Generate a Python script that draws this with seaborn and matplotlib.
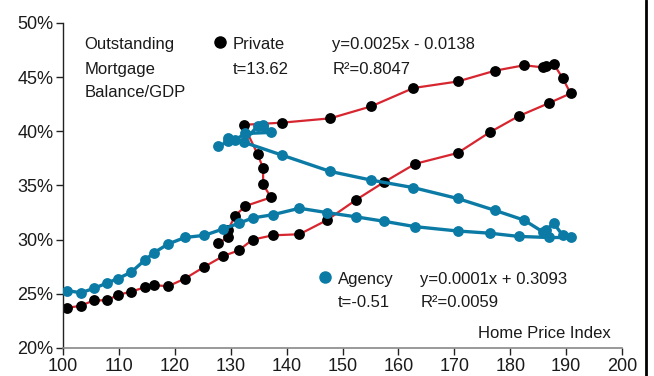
import matplotlib
matplotlib.use("Agg")
import matplotlib.pyplot as plt
from matplotlib.lines import Line2D
import seaborn as sns
import pandas as pd

# Home price index (shared by both series, quarterly, chronological)
hpi = [100.7, 103.2, 105.5, 107.9, 109.8, 112.2, 114.6, 116.3, 118.8, 121.8,
       125.3, 128.7, 131.4, 133.9, 137.5, 142.3, 147.2, 152.5, 157.4, 163.0,
       170.6, 176.3, 181.5, 186.9, 190.8, 189.4, 187.8, 186.4, 185.9, 182.5,
       177.3, 170.6, 162.7, 155.1, 147.8, 139.2, 132.3, 134.8, 135.8, 135.8,
       137.2, 132.6, 130.8, 129.5, 129.6, 127.8]

# Outstanding mortgage balance / GDP, in percent
private = [23.7, 23.9, 24.4, 24.4, 24.9, 25.2, 25.6, 25.8, 25.7, 26.4,
           27.5, 28.5, 29.0, 30.0, 30.4, 30.5, 31.8, 33.7, 35.3, 37.0,
           38.0, 39.9, 41.4, 42.6, 43.5, 44.9, 46.2, 46.0, 45.9, 46.1,
           45.6, 44.6, 44.0, 42.3, 41.2, 40.8, 40.6, 37.9, 36.6, 35.1,
           33.9, 33.1, 32.2, 30.9, 30.2, 29.7]
agency = [25.3, 25.1, 25.5, 26.0, 26.4, 27.0, 28.1, 28.8, 29.6, 30.2,
          30.4, 31.0, 31.5, 32.0, 32.3, 32.9, 32.5, 32.1, 31.7, 31.2,
          30.8, 30.6, 30.3, 30.2, 30.2, 30.4, 31.5, 30.9, 30.7, 31.8,
          32.7, 33.8, 34.8, 35.5, 36.3, 37.8, 39.0, 40.5, 40.5, 40.6,
          39.9, 39.8, 39.2, 39.35, 39.1, 38.6]

x_ticks = list(range(100, 201, 10))
y_ticks = list(range(20, 51, 5))
y_labels = [f"{v}%" for v in y_ticks]

RED = "#d7262f"
BLUE = "#0b7ba6"

sns.set_style("ticks")
plt.rcParams["font.family"] = ["Liberation Sans", "DejaVu Sans"]
plt.rcParams["font.size"] = 12

fig = plt.figure(figsize=(6.54, 3.76), dpi=100)
ax = fig.add_axes([63 / 654, 1 - 348 / 376, (622 - 63) / 654, (348 - 23) / 376])

df = pd.DataFrame({"hpi": hpi, "private": private, "agency": agency})

sns.lineplot(data=df, x="hpi", y="private", sort=False, estimator=None,
             errorbar=None, ax=ax, color=RED, linewidth=1.6, marker="o",
             markersize=7.8, zorder=2)
sns.lineplot(data=df, x="hpi", y="agency", sort=False, estimator=None,
             errorbar=None, ax=ax, color=BLUE, linewidth=2.4, marker="o",
             markersize=7.8, zorder=3)
line_p, line_a = ax.lines[0], ax.lines[1]
line_p.set_markerfacecolor("black")
line_p.set_markeredgecolor("black")
line_p.set_markeredgewidth(0)
line_a.set_markerfacecolor(BLUE)
line_a.set_markeredgecolor(BLUE)
line_a.set_markeredgewidth(0)

ax.set_xlim(100, 200)
ax.set_ylim(20, 50)
ax.set_xticks(x_ticks)
ax.set_yticks(y_ticks)
ax.set_yticklabels(y_labels)
ax.set_xlabel("")
ax.set_ylabel("")
ax.tick_params(axis="both", labelsize=13, length=5, width=1, color="#222222",
               pad=2, labelcolor="#1a1a1a")
for s in ("top", "right"):
    ax.spines[s].set_visible(False)
ax.spines["left"].set_color("#222222")
ax.spines["bottom"].set_color("#888888")
ax.spines["left"].set_linewidth(1)
ax.spines["bottom"].set_linewidth(1.2)

fs = 12
tc = "#1a1a1a"
ax.text(103.8, 48.0, "Outstanding", fontsize=fs, va="center", color=tc)
ax.text(103.8, 45.69, "Mortgage", fontsize=fs, va="center", color=tc)
ax.text(103.8, 43.56, "Balance/GDP", fontsize=fs, va="center", color=tc)

ax.plot([128.1], [48.2], "o", color="black", markersize=8, clip_on=False)
ax.text(130.4, 48.0, "Private", fontsize=fs, va="center", color=tc)
ax.text(130.4, 45.69, "t=13.62", fontsize=fs, va="center", color=tc)
ax.text(148.2, 48.0, "y=0.0025x - 0.0138", fontsize=fs, va="center", color=tc)
ax.text(148.2, 45.69, "R²=0.8047", fontsize=fs, va="center", color=tc)

ax.plot([146.9], [26.55], "o", color=BLUE, markersize=8)
ax.text(149.1, 26.36, "Agency", fontsize=fs, va="center", color=tc)
ax.text(149.1, 24.24, "t=-0.51", fontsize=fs, va="center", color=tc)
ax.text(163.9, 26.36, "y=0.0001x + 0.3093", fontsize=fs, va="center", color=tc)
ax.text(163.9, 24.24, "R²=0.0059", fontsize=fs, va="center", color=tc)

ax.text(198.0, 21.31, "Home Price Index", fontsize=fs, va="center", ha="right",
        color=tc)

# frame edge on the right side of the figure
fig.add_artist(Line2D([646 / 654, 646 / 654], [0, 1], color="black",
                      linewidth=2, transform=fig.transFigure))

fig.savefig("out.png", dpi=100)
